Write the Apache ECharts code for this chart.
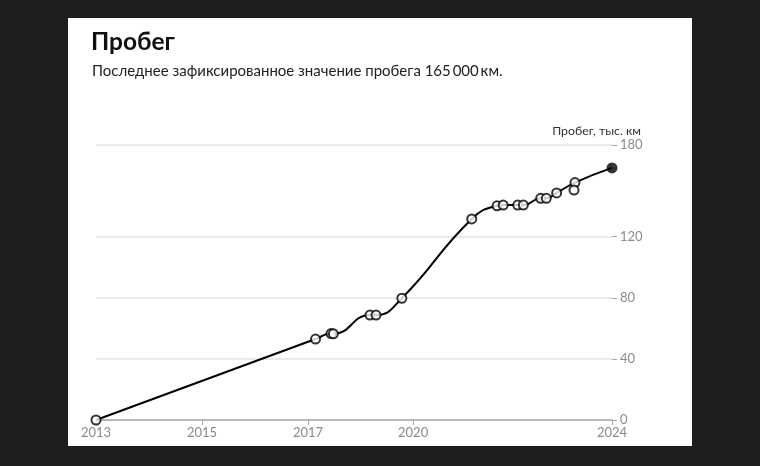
<!DOCTYPE html>
<html><head><meta charset="utf-8">
<script src="https://cdn.jsdelivr.net/npm/echarts@6/dist/echarts.min.js"></script>
<style>html,body{margin:0;padding:0;background:#1e1e1e;}#c{width:760px;height:466px;}</style>
</head><body><div id="c"></div>
<script>
// Readings on the curve: date (decimal year) and mileage (thousand km)
const dates   = [2013.00, 2017.68, 2018.01, 2018.06, 2018.84, 2018.97, 2019.52, 2021.01, 2021.55, 2021.68, 2021.99, 2022.11, 2022.48, 2022.60, 2022.82, 2023.21, 2024.00];
const mileage = [0,       53.0,    56.6,    56.4,    68.7,    68.7,    79.7,    131.6,   140.2,   140.7,   140.7,   140.7,   145.1,   145.1,   148.6,   155.4,   165.0];
// Reading shown off the curve
const strayDates   = [2023.19];
const strayMileage = [150.5];
// Axis ticks
const xTickValues = [2013.00, 2015.26, 2017.52, 2019.76, 2024.00];
const xTickLabels = ['2013', '2015', '2017', '2020', '2024'];
const yTickValues = [0, 40, 80, 120, 180];
const titleText = 'Пробег';
const subtitleText = 'Последнее зафиксированное значение пробега 165\u2009000\u2009км.';
const yAxisName = 'Пробег, тыс. км';

const font = 'Lato, "Open Sans", sans-serif';
const linePts = dates.map((d, i) => [d, mileage[i]]);
const n = linePts.length;
const openPts = linePts.slice(0, n - 1).concat(strayDates.map((d, i) => [d, strayMileage[i]]));
const lastPt = [linePts[n - 1]];

const chart = echarts.init(document.getElementById('c'), null, {renderer: 'canvas'});
chart.setOption({
  animation: false,
  backgroundColor: '#1e1e1e',
  textStyle: {fontFamily: font},
  graphic: [
    {type: 'rect', z: -10, shape: {x: 68, y: 18, width: 624, height: 428}, style: {fill: '#ffffff'}},
    {type: 'text', left: 91, top: 30, style: {text: titleText, font: 'bold 24.5px ' + font, fill: '#111111'}},
    {type: 'text', left: 92, top: 64, style: {text: subtitleText, font: '15px ' + font, fill: '#222222'}},
    {type: 'text', x: 641, y: 131, style: {text: yAxisName, font: '12.3px ' + font, fill: '#333333', align: 'right', verticalAlign: 'middle'}}
  ],
  grid: {left: 96, right: 148, top: 145, bottom: 46, containLabel: false},
  xAxis: {
    type: 'value', min: 2013, max: 2024,
    axisLine: {show: true, lineStyle: {color: '#a8a8a8', width: 1.5}},
    axisTick: {show: true, length: 5, inside: false, customValues: xTickValues, lineStyle: {color: '#a8a8a8'}},
    axisLabel: {customValues: xTickValues, color: '#8a8a8a', fontSize: 13, margin: 6, fontFamily: font,
      formatter: v => { const i = xTickValues.findIndex(t => Math.abs(t - v) < 1e-6); return i >= 0 ? xTickLabels[i] : ''; }},
    splitLine: {show: false}
  },
  yAxis: {
    type: 'value', position: 'right', min: 0, max: 180,
    axisLine: {show: false},
    axisTick: {show: true, length: 5, customValues: yTickValues, lineStyle: {color: '#a8a8a8'}},
    axisLabel: {customValues: yTickValues, color: '#8a8a8a', fontSize: 13, margin: 8, fontFamily: font},
    splitLine: {show: true, lineStyle: {color: '#e3e3e3', width: 1.5}}
  },
  series: [
    {type: 'line', data: linePts, smooth: 0.5, showSymbol: false,
     lineStyle: {color: '#000000', width: 2}, z: 3},
    {type: 'scatter', data: openPts, symbol: 'circle', symbolSize: 9,
     itemStyle: {color: '#ffffff', borderColor: '#000000', borderWidth: 2}, z: 4},
    {type: 'scatter', data: lastPt, symbol: 'circle', symbolSize: 11,
     itemStyle: {color: '#000000', borderColor: '#000000', borderWidth: 0}, z: 5}
  ]
});
</script></body></html>
